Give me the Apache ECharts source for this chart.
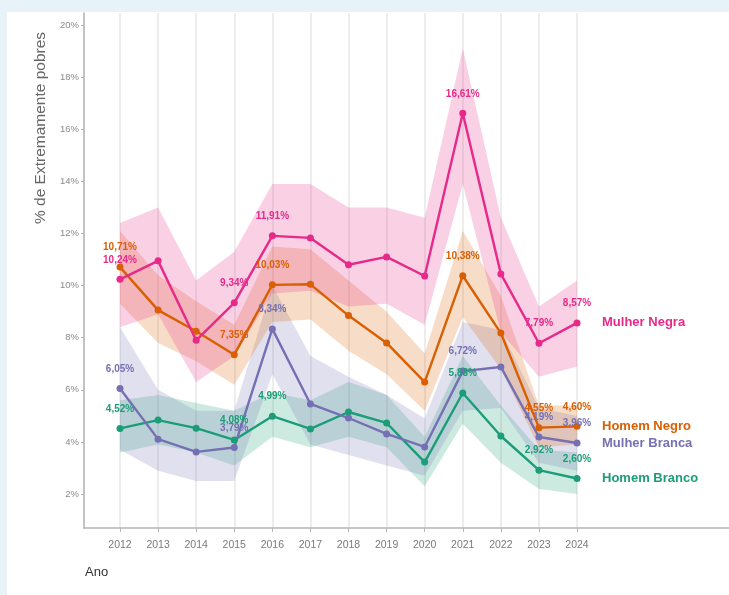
<!DOCTYPE html>
<html>
<head>
<meta charset="utf-8">
<script src="https://cdn.jsdelivr.net/npm/echarts@6/dist/echarts.min.js"></script>
<style>
  html, body { margin: 0; padding: 0; }
  body { width: 729px; height: 595px; background: #e7f2f9; position: relative; overflow: hidden; }
  #panel { position: absolute; left: 7px; top: 12px; width: 722px; height: 583px; background: #ffffff; }
  #chart { position: absolute; left: 0; top: 0; width: 729px; height: 595px; }
</style>
</head>
<body>
<div id="panel"></div>
<div id="chart"></div>
<script>
// Anos da série
const years = [2012, 2013, 2014, 2015, 2016, 2017, 2018, 2019, 2020, 2021, 2022, 2023, 2024];
// Anos com rótulo de valor
const labelYears = [2012, 2015, 2016, 2021, 2023, 2024];
const yTicks = [2, 4, 6, 8, 10, 12, 14, 16, 18, 20];

// % de extremamente pobres por grupo
const mulherNegra  = [10.24, 10.95, 7.90, 9.34, 11.91, 11.83, 10.80, 11.10, 10.37, 16.61, 10.45, 7.79, 8.57];
const homemNegro   = [10.71, 9.06, 8.25, 7.35, 10.03, 10.05, 8.85, 7.80, 6.30, 10.38, 8.18, 4.55, 4.60];
const mulherBranca = [6.05, 4.11, 3.62, 3.79, 8.34, 5.46, 4.92, 4.31, 3.81, 6.72, 6.88, 4.19, 3.96];
const homemBranco  = [4.52, 4.84, 4.53, 4.08, 4.99, 4.50, 5.15, 4.73, 3.23, 5.88, 4.23, 2.92, 2.60];

// Intervalos de confiança (limite inferior / superior)
const mulherNegraLo  = [8.4, 8.9, 6.3, 7.3, 9.7, 9.8, 9.2, 9.3, 8.5, 13.9, 8.2, 6.5, 6.9];
const mulherNegraHi  = [12.4, 13.0, 10.2, 11.3, 13.9, 13.9, 13.0, 13.0, 12.6, 19.1, 12.6, 9.2, 10.2];
const homemNegroLo   = [9.3, 7.8, 7.1, 6.2, 8.6, 8.7, 7.5, 6.6, 5.2, 8.8, 6.8, 3.8, 3.9];
const homemNegroHi   = [12.1, 10.4, 9.4, 8.5, 11.5, 11.4, 10.2, 9.0, 7.4, 12.1, 9.6, 5.4, 5.4];
const mulherBrancaLo = [3.7, 2.9, 2.5, 2.5, 6.6, 3.9, 3.5, 3.1, 2.7, 5.2, 5.3, 3.2, 2.9];
const mulherBrancaHi = [8.4, 6.0, 5.2, 5.2, 10.0, 7.3, 6.5, 5.8, 4.9, 8.6, 8.3, 5.3, 5.0];
const homemBrancoLo  = [3.6, 3.9, 3.6, 3.1, 4.2, 3.8, 4.2, 3.8, 2.3, 4.7, 3.2, 2.2, 2.0];
const homemBrancoHi  = [5.6, 5.8, 5.5, 5.2, 5.9, 5.6, 6.3, 5.8, 4.2, 7.3, 5.4, 3.7, 3.6];

const groups = [
  { name: 'Homem Branco',  color: '#1b9e77', values: homemBranco,  lo: homemBrancoLo,  hi: homemBrancoHi },
  { name: 'Mulher Branca', color: '#7570b3', values: mulherBranca, lo: mulherBrancaLo, hi: mulherBrancaHi },
  { name: 'Homem Negro',   color: '#d95f02', values: homemNegro,   lo: homemNegroLo,   hi: homemNegroHi },
  { name: 'Mulher Negra',  color: '#e7298a', values: mulherNegra,  lo: mulherNegraLo,  hi: mulherNegraHi }
];

const fmt = v => v.toFixed(2).replace('.', ',') + '%';
const font = '"Liberation Sans", Arial, sans-serif';

const series = [];
// Faixas: polígono entre limite inferior e superior, desenhado pelas coordenadas dos eixos
groups.forEach(g => {
  series.push({
    type: 'custom', silent: true, z: 1,
    data: years.map((y, i) => [y, g.lo[i], g.hi[i]]),
    encode: { x: 0, y: [1, 2] },
    renderItem: (params, api) => {
      if (params.dataIndex !== 0) return null;
      const upper = years.map((y, i) => api.coord([y, g.hi[i]]));
      const lower = years.map((y, i) => api.coord([y, g.lo[i]])).reverse();
      return {
        type: 'polygon',
        shape: { points: upper.concat(lower) },
        style: { fill: g.color, opacity: 0.22 }
      };
    }
  });
});
// Linhas com pontos e rótulos
groups.forEach(g => {
  series.push({
    type: 'line', name: g.name, z: 5,
    data: years.map((y, i) => [y, g.values[i]]),
    color: g.color,
    lineStyle: { width: 2.4, color: g.color },
    symbol: 'circle', symbolSize: 7,
    itemStyle: { color: g.color },
    label: {
      show: true, position: 'top', distance: 11,
      fontFamily: font, fontSize: 10, fontWeight: 'bold', color: g.color,
      formatter: p => labelYears.includes(p.value[0]) ? fmt(p.value[1]) : ''
    },
    endLabel: {
      show: true, distance: 25,
      fontFamily: font, fontSize: 13, fontWeight: 'bold', color: g.color,
      formatter: () => g.name
    }
  });
});

const chart = echarts.init(document.getElementById('chart'), null, { renderer: 'canvas' });
chart.setOption({
  backgroundColor: 'transparent',
  animation: false,
  grid: { left: 84, right: 0, top: 13, bottom: 67 },
  xAxis: {
    type: 'value', min: 2011.055, max: 2027.99,
    axisLine: { show: true, lineStyle: { color: '#b5b5b5', width: 1.6 } },
    axisTick: { show: true, customValues: years, length: 4, lineStyle: { color: '#b5b5b5' } },
    axisLabel: { customValues: years, margin: 12, fontFamily: font, fontSize: 10.5, color: '#7a7a7a',
      formatter: v => String(v) },
    splitLine: { show: true, lineStyle: { color: '#ededed', width: 2 } }
  },
  yAxis: {
    type: 'value', min: 0.7, max: 20.46,
    axisLine: { show: true, lineStyle: { color: '#b5b5b5', width: 1.6 } },
    axisTick: { show: true, customValues: yTicks, length: 3, lineStyle: { color: '#b5b5b5' } },
    axisLabel: { customValues: yTicks, margin: 5, fontFamily: font, fontSize: 9.5, color: '#8a8a8a',
      formatter: v => v + '%' },
    splitLine: { show: false }
  },
  graphic: [
    { type: 'text', x: 41, y: 128, rotation: Math.PI / 2,
      style: { text: '% de Extremamente pobres', fontFamily: font, fontSize: 15.5, fill: '#666666',
        align: 'center', verticalAlign: 'middle' } },
    { type: 'text', x: 85, y: 566,
      style: { text: 'Ano', fontFamily: font, fontSize: 13, fill: '#333333' } }
  ],
  series: series
});
</script>
</body>
</html>
